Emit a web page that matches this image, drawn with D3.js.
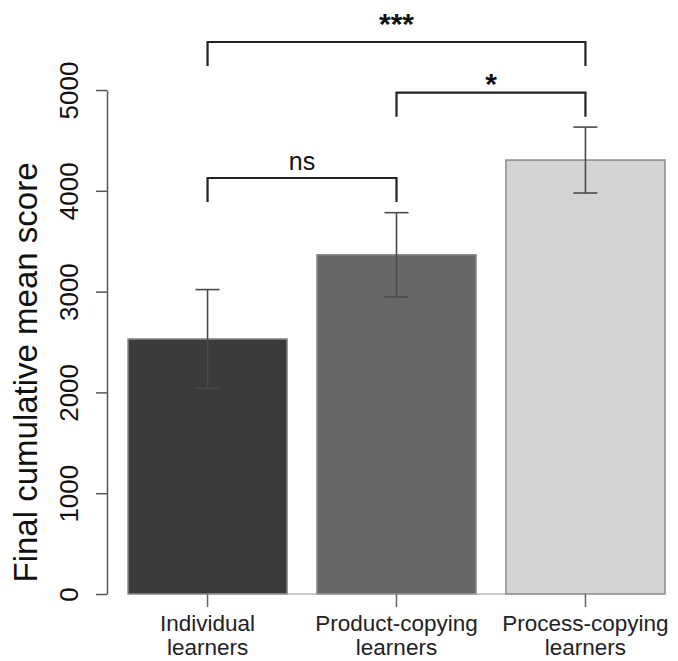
<!DOCTYPE html>
<html>
<head>
<meta charset="utf-8">
<script src="https://cdn.jsdelivr.net/npm/d3@7"></script>
<style>
  body { margin: 0; background: #fff; }
  svg text { font-family: "Liberation Sans", Arial, sans-serif; }
</style>
</head>
<body>
<div class="chart"></div>
<script>
// data
const groups = ["Individual learners", "Product-copying learners", "Process-copying learners"];
const means = [2530, 3365, 4305];
const errors = [490, 418, 327];
const yTicks = [0, 1000, 2000, 3000, 4000, 5000];

// significance brackets: pair of groups, label, height (score units)
const bracketPairs = [[0, 1], [1, 2], [0, 2]];
const bracketLabels = ["ns", "*", "***"];
const bracketLevels = [4127, 4973, 5476];

const width = 678, height = 661;

const svg = d3
  .select(".chart")
  .append("svg")
  .attr("width", width)
  .attr("height", height);

const x = d3.scaleBand().domain(groups).range([128, 665]).paddingInner(0.158).paddingOuter(0);
const y = d3.scaleLinear().domain([0, 5000]).range([594, 90]);

const fills = ["#3b3b3b", "#676767", "#d3d3d3"];
const labelGap = [8, -1, 8]; // distance of label baseline above its bracket
const cx = (i) => x(groups[i]) + x.bandwidth() / 2;

// bars
svg.append("g")
  .selectAll("rect")
  .data(means)
  .enter()
  .append("rect")
  .attr("x", (d, i) => x(groups[i]))
  .attr("y", (d) => y(d))
  .attr("width", x.bandwidth())
  .attr("height", (d) => y(0) - y(d))
  .attr("fill", (d, i) => fills[i])
  .attr("stroke", "#8a8a8a")
  .attr("stroke-width", 1.5);

// error bars
const eb = svg.append("g").attr("stroke", "#4a4a4a").attr("stroke-width", 1.6);
means.forEach((m, i) => {
  const c = cx(i);
  eb.append("line").attr("x1", c).attr("x2", c).attr("y1", y(m + errors[i])).attr("y2", y(m - errors[i]));
  eb.append("line").attr("x1", c - 12).attr("x2", c + 12).attr("y1", y(m + errors[i])).attr("y2", y(m + errors[i]));
  eb.append("line").attr("x1", c - 12).attr("x2", c + 12).attr("y1", y(m - errors[i])).attr("y2", y(m - errors[i]));
});

// y axis (R style: line from first to last tick, ticks outward)
const yAxis = svg.append("g")
  .attr("transform", "translate(107,0)")
  .call(d3.axisLeft(y).tickValues(yTicks).tickSize(11).tickSizeOuter(0).tickFormat(d3.format("d")));
yAxis.select(".domain").attr("stroke", "#555").attr("stroke-width", 1.5);
yAxis.selectAll(".tick line").attr("stroke", "#555").attr("stroke-width", 1.5);
yAxis.selectAll(".tick text")
  .attr("x", null).attr("dy", null)
  .attr("transform", "translate(-29,0) rotate(-90)")
  .attr("text-anchor", "middle")
  .attr("font-size", 26)
  .attr("fill", "#111")
  .style("font-family", "'Liberation Sans', Arial, sans-serif");

// y title
svg.append("text")
  .attr("transform", `translate(37,${(155 + 590) / 2}) rotate(-90)`)
  .attr("text-anchor", "middle")
  .attr("font-size", 33)
  .attr("fill", "#111")
  .text("Final cumulative mean score");

// x axis ticks and labels
const xa = svg.append("g");
xa.append("line")
  .attr("x1", cx(0)).attr("x2", cx(2))
  .attr("y1", y(0)).attr("y2", y(0))
  .attr("stroke", "#999").attr("stroke-width", 1);
groups.forEach((g, i) => {
  xa.append("line")
    .attr("x1", cx(i)).attr("x2", cx(i))
    .attr("y1", y(0)).attr("y2", y(0) + 13)
    .attr("stroke", "#666").attr("stroke-width", 1.5);
  const words = g.split(" ");
  const t = xa.append("text")
    .attr("text-anchor", "middle")
    .attr("font-size", 22.5)
    .attr("fill", "#222");
  t.append("tspan").attr("x", cx(i)).attr("y", 631).text(words[0]);
  t.append("tspan").attr("x", cx(i)).attr("y", 655).text(words[1]);
});

// significance brackets
const br = svg.append("g");
bracketPairs.forEach((p, k) => {
  const x1 = cx(p[0]), x2 = cx(p[1]);
  const yy = y(bracketLevels[k]);
  br.append("path")
    .attr("d", `M${x1},${yy + 24}V${yy}H${x2}V${yy + 24}`)
    .attr("fill", "none")
    .attr("stroke", "#222")
    .attr("stroke-width", 2.2);
  const isStar = bracketLabels[k] !== "ns";
  br.append("text")
    .attr("x", (x1 + x2) / 2)
    .attr("y", yy - labelGap[k])
    .attr("text-anchor", "middle")
    .attr("font-size", isStar ? 30 : 25)
    .attr("font-weight", isStar ? "bold" : "normal")
    .attr("fill", "#111")
    .text(bracketLabels[k]);
});
</script>
</body>
</html>
